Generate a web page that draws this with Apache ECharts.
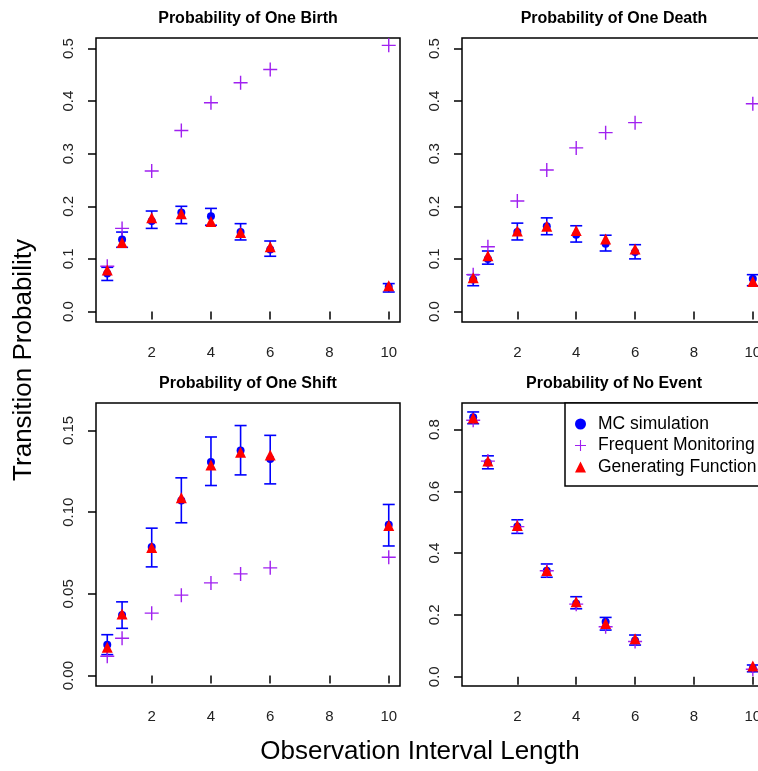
<!DOCTYPE html>
<html>
<head>
<meta charset="utf-8">
<script src="https://cdn.jsdelivr.net/npm/echarts@6/dist/echarts.min.js"></script>
<style>
  html, body { margin: 0; padding: 0; background: #fff; }
  #chart { width: 758px; height: 771px; }
</style>
</head>
<body>
<div id="chart"></div>
<script>
// observation interval lengths
const xVals = [0.5, 1, 2, 3, 4, 5, 6, 10];
const xTicks = [2, 4, 6, 8, 10];

// Probability of One Birth
const birthMC = [0.072, 0.137, 0.172, 0.188, 0.181, 0.151, 0.118, 0.047];
const birthLo = [0.059, 0.122, 0.158, 0.167, 0.164, 0.136, 0.105, 0.037];
const birthHi = [0.084, 0.151, 0.191, 0.200, 0.196, 0.167, 0.134, 0.053];
const birthFM = [0.086, 0.158, 0.267, 0.344, 0.397, 0.435, 0.460, 0.506];
const birthGF = [0.079, 0.131, 0.178, 0.186, 0.171, 0.150, 0.123, 0.049];

// Probability of One Death
const deathMC = [0.061, 0.100, 0.151, 0.162, 0.146, 0.129, 0.113, 0.062];
const deathLo = [0.049, 0.090, 0.136, 0.146, 0.132, 0.115, 0.100, 0.049];
const deathHi = [0.070, 0.115, 0.168, 0.178, 0.163, 0.145, 0.127, 0.070];
const deathFM = [0.070, 0.123, 0.210, 0.269, 0.311, 0.340, 0.359, 0.395];
const deathGF = [0.064, 0.106, 0.153, 0.162, 0.154, 0.138, 0.119, 0.057];

// Probability of One Shift
const shiftMC = [0.0189, 0.0370, 0.0787, 0.1071, 0.1307, 0.1378, 0.1326, 0.0923];
const shiftLo = [0.0128, 0.0289, 0.0665, 0.0935, 0.1163, 0.1228, 0.1173, 0.0793];
const shiftHi = [0.0250, 0.0451, 0.0902, 0.1210, 0.1460, 0.1530, 0.1470, 0.1047];
const shiftFM = [0.0118, 0.0228, 0.0382, 0.0492, 0.0567, 0.0622, 0.0659, 0.0724];
const shiftGF = [0.0173, 0.0376, 0.0783, 0.1088, 0.1289, 0.1366, 0.1350, 0.0919];

// Probability of No Event
const noneMC = [0.840, 0.693, 0.486, 0.343, 0.237, 0.178, 0.117, 0.027];
const noneLo = [0.819, 0.673, 0.464, 0.322, 0.220, 0.151, 0.1025, 0.016];
const noneHi = [0.857, 0.715, 0.508, 0.365, 0.259, 0.192, 0.135, 0.038];
const noneFM = [0.830, 0.698, 0.486, 0.343, 0.235, 0.162, 0.114, 0.024];
const noneGF = [0.8375, 0.6985, 0.4896, 0.344, 0.2425, 0.1726, 0.123, 0.0346];

const yTicks12 = [0, 0.1, 0.2, 0.3, 0.4, 0.5];
const yTicks3 = [0, 0.05, 0.10, 0.15];
const yTicks4 = [0, 0.2, 0.4, 0.6, 0.8];

const FONT = '"Liberation Sans", Arial, Helvetica, sans-serif';
const BLUE = '#0000ff', RED = '#ff0000', PURPLE = '#a020f0';
const PLUS = 'path://M45,0H55V45H100V55H55V100H45V55H0V45H45Z';

const panels = [
  {title: 'Probability of One Birth', mc: birthMC, lo: birthLo, hi: birthHi, fm: birthFM, gf: birthGF,
   ymin: -0.02, ymax: 0.52, ticks: yTicks12, dec: 1, grid: {left: 96, top: 38, width: 304, height: 284}},
  {title: 'Probability of One Death', mc: deathMC, lo: deathLo, hi: deathHi, fm: deathFM, gf: deathGF,
   ymin: -0.02, ymax: 0.52, ticks: yTicks12, dec: 1, grid: {left: 462, top: 38, width: 302, height: 284}},
  {title: 'Probability of One Shift', mc: shiftMC, lo: shiftLo, hi: shiftHi, fm: shiftFM, gf: shiftGF,
   ymin: -0.0064, ymax: 0.1668, ticks: yTicks3, dec: 2, grid: {left: 96, top: 403, width: 304, height: 283}},
  {title: 'Probability of No Event', mc: noneMC, lo: noneLo, hi: noneHi, fm: noneFM, gf: noneGF,
   ymin: -0.03, ymax: 0.886, ticks: yTicks4, dec: 1, grid: {left: 462, top: 403, width: 302, height: 283}}
];

const grids = [], xAxes = [], yAxes = [], series = [], graphics = [];

panels.forEach((p, i) => {
  grids.push(Object.assign({
    show: true, borderColor: '#000', borderWidth: 1.5, backgroundColor: 'transparent',
    outerBoundsMode: 'none', containLabel: false
  }, p.grid));
  xAxes.push({
    type: 'value', gridIndex: i, min: 0.12, max: 10.38,
    axisLine: {show: false},
    splitLine: {show: false},
    axisTick: {show: true, length: 8, customValues: xTicks, lineStyle: {color: '#000', width: 1.5}},
    axisLabel: {customValues: xTicks, margin: 23, color: '#222', fontSize: 15, fontFamily: FONT}
  });
  yAxes.push({
    type: 'value', gridIndex: i, min: p.ymin, max: p.ymax,
    axisLine: {show: false},
    splitLine: {show: false},
    axisTick: {show: true, length: 8, customValues: p.ticks, lineStyle: {color: '#000', width: 1.5}},
    axisLabel: {
      customValues: p.ticks, rotate: 90, margin: 20, color: '#222', fontSize: 15, fontFamily: FONT,
      formatter: v => Number(v).toFixed(p.dec)
    }
  });

  series.push({
    name: 'MC simulation', type: 'scatter', xAxisIndex: i, yAxisIndex: i,
    symbol: 'circle', symbolSize: 8, itemStyle: {color: BLUE, opacity: 1},
    data: xVals.map((x, k) => [x, p.mc[k]])
  });
  series.push({
    name: 'errorbar', type: 'custom', xAxisIndex: i, yAxisIndex: i,
    encode: {x: 0, y: [1, 2]},
    data: xVals.map((x, k) => [x, p.lo[k], p.hi[k]]),
    renderItem(params, api) {
      const a = api.coord([api.value(0), api.value(1)]);
      const b = api.coord([api.value(0), api.value(2)]);
      const st = {stroke: BLUE, lineWidth: 1.6};
      const w = 6;
      return {
        type: 'group',
        children: [
          {type: 'line', shape: {x1: a[0], y1: a[1], x2: b[0], y2: b[1]}, style: st},
          {type: 'line', shape: {x1: a[0] - w, y1: a[1], x2: a[0] + w, y2: a[1]}, style: st},
          {type: 'line', shape: {x1: b[0] - w, y1: b[1], x2: b[0] + w, y2: b[1]}, style: st}
        ]
      };
    }
  });
  series.push({
    name: 'Frequent Monitoring', type: 'scatter', xAxisIndex: i, yAxisIndex: i,
    symbol: PLUS, symbolSize: 14, itemStyle: {color: PURPLE, opacity: 1},
    data: xVals.map((x, k) => [x, p.fm[k]])
  });
  series.push({
    name: 'Generating Function', type: 'scatter', xAxisIndex: i, yAxisIndex: i,
    symbol: 'triangle', symbolSize: 11, itemStyle: {color: RED, opacity: 1},
    data: xVals.map((x, k) => [x, p.gf[k]])
  });

  graphics.push({
    type: 'text', x: p.grid.left + 152, y: p.grid.top - 19,
    style: {text: p.title, fontSize: 16, fontWeight: 'bold', fontFamily: FONT, fill: '#000',
            textAlign: 'center', textVerticalAlign: 'middle'}
  });
});

graphics.push({
  type: 'text', x: 24, y: 360, rotation: Math.PI / 2,
  style: {text: 'Transition Probability', fontSize: 26, fontFamily: FONT, fill: '#000',
          textAlign: 'center', textVerticalAlign: 'middle'}
});
graphics.push({
  type: 'text', x: 420, y: 752,
  style: {text: 'Observation Interval Length', fontSize: 26, fontFamily: FONT, fill: '#000',
          textAlign: 'center', textVerticalAlign: 'middle'}
});

const chart = echarts.init(document.getElementById('chart'));
chart.setOption({
  animation: false,
  backgroundColor: '#fff',
  grid: grids,
  xAxis: xAxes,
  yAxis: yAxes,
  legend: {
    data: ['MC simulation', 'Frequent Monitoring', 'Generating Function'],
    orient: 'vertical', left: 565, top: 403,
    selectedMode: false,
    backgroundColor: '#fff', borderColor: '#000', borderWidth: 1.5,
    padding: [12, 10, 10, 10], itemGap: 3.5, itemWidth: 11, itemHeight: 11,
    textStyle: {fontSize: 17.5, fontFamily: FONT, color: '#000', padding: [0, 0, 0, 7]}
  },
  graphic: graphics,
  series: series
});
</script>
</body>
</html>
